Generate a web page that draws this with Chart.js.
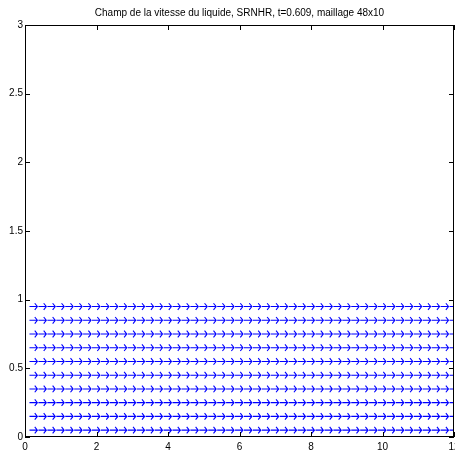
<!DOCTYPE html>
<html>
<head>
<meta charset="utf-8">
<script src="https://cdn.jsdelivr.net/npm/chart.js@4"></script>
<style>
  html, body { margin: 0; padding: 0; background: #fff; }
  #wrap { width: 455px; height: 457px; position: relative; }
</style>
</head>
<body>
<div id="wrap"><canvas id="quiver"></canvas></div>
<script>
// Maillage 48x10 : positions des centres des mailles
const xCenters = [0.125, 0.375, 0.625, 0.875, 1.125, 1.375, 1.625, 1.875, 2.125, 2.375, 2.625, 2.875,
    3.125, 3.375, 3.625, 3.875, 4.125, 4.375, 4.625, 4.875, 5.125, 5.375, 5.625, 5.875,
    6.125, 6.375, 6.625, 6.875, 7.125, 7.375, 7.625, 7.875, 8.125, 8.375, 8.625, 8.875,
    9.125, 9.375, 9.625, 9.875, 10.125, 10.375, 10.625, 10.875, 11.125, 11.375, 11.625, 11.875];
const yCenters = [0.05, 0.15, 0.25, 0.35, 0.45, 0.55, 0.65, 0.75, 0.85, 0.95];
// Vitesse du liquide par rangée (u horizontal, v vertical)
const uRow = [1, 1, 1, 1, 1, 1, 1, 1, 1, 1];
const vRow = [0, 0, 0, 0, 0, 0, 0, 0, 0, 0];
const xTicks = [0, 2, 4, 6, 8, 10, 12];
const yTicks = [0, 0.5, 1, 1.5, 2, 2.5, 3];
const titleText = 'Champ de la vitesse du liquide, SRNHR, t=0.609, maillage 48x10';

const FONT = 'Liberation Sans, Arial, Helvetica, sans-serif';

// Échelle automatique façon quiver
const delx = 0.245, dely = 0.1;
let maxLen = 0;
uRow.forEach((u, i) => {
    const l = Math.sqrt((u / delx) ** 2 + (vRow[i] / dely) ** 2);
    if (l > maxLen) maxLen = l;
});
const scale = 0.9 / maxLen;

// Construction des flèches (segment + pointe), séparées par des null
function buildArrows() {
    const pts = [];
    const a = 0.33, b = 0.33;
    yCenters.forEach((y, j) => {
        xCenters.forEach(x => {
            const u = uRow[j] * scale, v = vRow[j] * scale;
            const tx = x + u, ty = y + v;
            pts.push({x: x, y: y}, {x: tx, y: ty}, {x: null, y: null});
            pts.push({x: tx - a * (u + b * v), y: ty - a * (v - b * u)},
                     {x: tx, y: ty},
                     {x: tx - a * (u - b * v), y: ty - a * (v + b * u)},
                     {x: null, y: null});
        });
    });
    return pts;
}

// Boîte et graduations intérieures
const boxPlugin = {
    id: 'box',
    afterDraw(chart) {
        const {ctx, chartArea: a, scales} = chart;
        ctx.save();
        ctx.strokeStyle = '#000';
        ctx.lineWidth = 1;
        ctx.strokeRect(Math.round(a.left) + 0.5, Math.round(a.top) + 0.5,
            Math.round(a.right - a.left) - 1, Math.round(a.bottom - a.top) - 1);
        ctx.beginPath();
        xTicks.forEach(t => {
            const px = Math.round(scales.x.getPixelForValue(t)) + 0.5;
            ctx.moveTo(px, a.bottom); ctx.lineTo(px, a.bottom - 5);
            ctx.moveTo(px, a.top); ctx.lineTo(px, a.top + 5);
        });
        yTicks.forEach(t => {
            const py = Math.round(scales.y.getPixelForValue(t)) + 0.5;
            ctx.moveTo(a.left, py); ctx.lineTo(a.left + 5, py);
            ctx.moveTo(a.right, py); ctx.lineTo(a.right - 5, py);
        });
        ctx.stroke();
        ctx.fillStyle = '#000';
        ctx.font = '10px ' + FONT;
        ctx.textAlign = 'center';
        ctx.textBaseline = 'middle';
        ctx.fillText(titleText, (a.left + a.right) / 2, 13);
        ctx.restore();
    }
};

new Chart(document.getElementById('quiver'), {
    type: 'scatter',
    data: {
        datasets: [{
            data: buildArrows(),
            showLine: true,
            spanGaps: false,
            borderColor: '#0000ff',
            borderWidth: 1.1,
            pointRadius: 0,
            pointHoverRadius: 0
        }]
    },
    options: {
        responsive: true,
        maintainAspectRatio: false,
        animation: false,
        events: [],
        layout: {padding: {top: 25, right: 1, left: 0, bottom: 0}},
        plugins: {legend: {display: false}, tooltip: {enabled: false}},
        scales: {
            x: {
                type: 'linear', min: 0, max: 12,
                afterBuildTicks: s => { s.ticks = xTicks.map(v => ({value: v})); },
                afterFit: s => { s.height = 20; s.paddingLeft = 0; s.paddingRight = 0; },
                grid: {display: false, drawTicks: false},
                border: {display: false},
                ticks: {color: '#000', font: {family: FONT, size: 10}, padding: 4, maxRotation: 0,
                    callback: v => String(v)}
            },
            y: {
                type: 'linear', min: 0, max: 3,
                afterBuildTicks: s => { s.ticks = yTicks.map(v => ({value: v})); },
                afterFit: s => { s.width = 25; s.paddingTop = 0; s.paddingBottom = 0; },
                grid: {display: false, drawTicks: false},
                border: {display: false},
                ticks: {color: '#000', font: {family: FONT, size: 10}, padding: 2,
                    callback: v => String(v)}
            }
        }
    },
    plugins: [boxPlugin]
});
</script>
</body>
</html>
